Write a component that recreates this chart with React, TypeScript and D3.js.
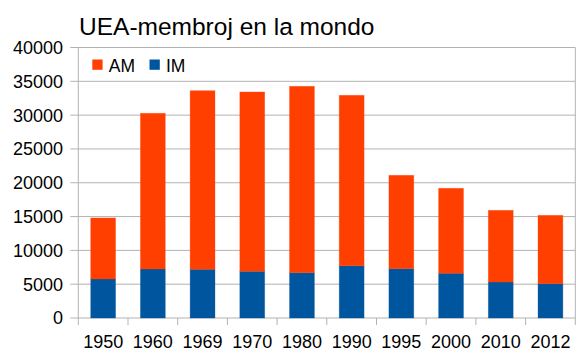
import React from "react";
import * as d3 from "d3";

const years = ["1950", "1960", "1969", "1970", "1980", "1990", "1995", "2000", "2010", "2012"];
const imValues = [5770, 7250, 7200, 6900, 6700, 7730, 7290, 6610, 5320, 5070];
const totalValues = [14790, 30270, 33610, 33420, 34260, 32930, 21100, 19180, 15920, 15180];
const amValues = totalValues.map((t, i) => t - imValues[i]);
const yTicks = [0, 5000, 10000, 15000, 20000, 25000, 30000, 35000, 40000];
const seriesNames = ["AM", "IM"];

const W = 583, H = 355;
const left = 78.3, right = 575.3, bottom = 318, top = 47.5;
const RED = "#ff3f00";
const BLUE = "#00569e";
const GRID = "#b3b3b3";
const FONT = "'Liberation Sans', Arial, sans-serif";

export default function App() {
  const x = d3.scaleBand<string>().domain(years).range([left, right]).paddingInner(0.5).paddingOuter(0.25);
  const y = d3.scaleLinear().domain([0, 40000]).range([bottom, top]);
  const step = x.step();
  const stack = d3.stack<any>().keys(["IM", "AM"])(
    years.map((yr, i) => ({ year: yr, IM: imValues[i], AM: amValues[i] }))
  );
  const colors: Record<string, string> = { IM: BLUE, AM: RED };
  const boundaries = d3.range(years.length + 1).map((i) => left + i * step);

  return (
    <svg width={W} height={H} style={{ position: "absolute", left: 0, top: 0 }} fontFamily={FONT}>
      <rect width={W} height={H} fill="#fff" />
      <text x={79} y={35} fontSize={24.5} fill="#000">UEA-membroj en la mondo</text>
      {yTicks.map((t) => (
        <g key={t}>
          <line x1={left - 8} x2={right} y1={y(t)} y2={y(t)} stroke={GRID} strokeWidth={1} />
          <text x={63} y={y(t)} dy="0.36em" textAnchor="end" fontSize={18} fill="#000">{t}</text>
        </g>
      ))}
      <line x1={left} x2={left} y1={top} y2={bottom} stroke={GRID} />
      <line x1={right} x2={right} y1={top} y2={bottom} stroke={GRID} />
      {boundaries.map((bx, i) => (
        <line key={i} x1={bx} x2={bx} y1={bottom} y2={bottom + 7} stroke={GRID} />
      ))}
      {stack.map((s) => (
        <g key={s.key}>
          {s.map((d, i) => (
            <rect
              key={i}
              x={x(years[i])!}
              width={x.bandwidth()}
              y={y(d[1])}
              height={y(d[0]) - y(d[1])}
              fill={colors[s.key]}
              stroke={colors[s.key]}
              strokeOpacity={0.4}
              strokeWidth={0.8}
            />
          ))}
        </g>
      ))}
      {years.map((yr) => (
        <text key={yr} x={x(yr)! + x.bandwidth() / 2} y={347.5} textAnchor="middle" fontSize={18} fill="#000">{yr}</text>
      ))}
      {seriesNames.map((n, i) => {
        const lx = i === 0 ? 92.3 : 149.5;
        return (
          <g key={n}>
            <rect x={lx} y={59.5} width={10.3} height={10.3} fill={n === "AM" ? RED : BLUE} />
            <text x={lx + 16.5} y={71.7} fontSize={17.5} fill="#000">{n}</text>
          </g>
        );
      })}
    </svg>
  );
}
